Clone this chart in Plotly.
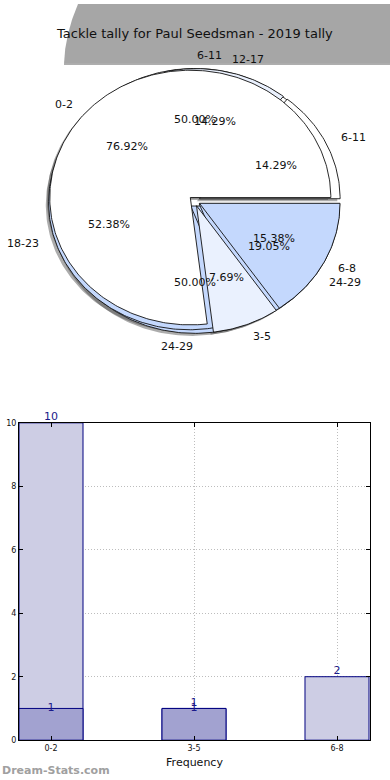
import numpy as np
import plotly.graph_objects as go

TITLE = "Tackle tally for Paul Seedsman - 2019 tally"

# Bar chart data
bar_categories = ["0-2", "3-5", "6-8"]
series_a = [10, 1, 2]
series_b = [1, 1, None]
y_ticks = [0, 2, 4, 6, 8, 10]

# Pie data (three overlaid pies)
pie1_labels = ["0-2", "3-5", "6-8"]
pie1_values = [10, 1, 2]
pie2_labels = ["6-11", "12-17", "18-23", "24-29"]
pie2_values = [3, 3, 11, 4]
pie3_labels = ["6-11", "24-29"]
pie3_values = [1, 1]

pie1_colors = ["#ffffff", "#eaf1fe", "#c4d8fd"]
pie2_colors = ["#ffffff", "#eaf1fe", "#c4d8fd", "#c4d8fd"]
pie3_colors = ["#ffffff", "#c4d8fd"]

EXPLODE = 0.04
LABEL_DIST = 1.1
PCT_DIST = 0.6
FONT = "DejaVu Sans"

fig = go.Figure()

pies = [
    (pie3_labels, pie3_values, pie3_colors),
    (pie2_labels, pie2_values, pie2_colors),
    (pie1_labels, pie1_values, pie1_colors),
]


def wedge_geom(values):
    v = np.array(values, dtype=float)
    frac = v / v.sum()
    edges = np.concatenate([[0.0], np.cumsum(frac)]) * 360.0
    return frac, edges


def wedge_poly(t1, t2, ox, oy):
    th = np.radians(np.linspace(t1, t2, max(4, int(abs(t2 - t1)) + 2)))
    xs = np.concatenate([[ox], ox + np.cos(th), [ox]])
    ys = np.concatenate([[oy], oy + np.sin(th), [oy]])
    return xs, ys


# shadows first
for labels, values, colors in pies:
    frac, edges = wedge_geom(values)
    for i in range(len(values)):
        tm = np.radians((edges[i] + edges[i + 1]) / 2)
        ox, oy = EXPLODE * np.cos(tm) - 0.02, EXPLODE * np.sin(tm) - 0.02
        xs, ys = wedge_poly(edges[i], edges[i + 1], ox, oy)
        fig.add_trace(go.Scatter(x=xs, y=ys, fill="toself", mode="lines",
                                 fillcolor="rgba(70,70,70,0.45)",
                                 line=dict(width=0, color="rgba(0,0,0,0)"),
                                 xaxis="x2", yaxis="y2", hoverinfo="skip"))

annotations = []
for labels, values, colors in pies:
    frac, edges = wedge_geom(values)
    for i in range(len(values)):
        tm = np.radians((edges[i] + edges[i + 1]) / 2)
        ox, oy = EXPLODE * np.cos(tm), EXPLODE * np.sin(tm)
        xs, ys = wedge_poly(edges[i], edges[i + 1], ox, oy)
        fig.add_trace(go.Scatter(x=xs, y=ys, fill="toself", mode="lines",
                                 fillcolor=colors[i % len(colors)],
                                 line=dict(width=0.9, color="#111111"),
                                 xaxis="x2", yaxis="y2", hoverinfo="skip"))
        c, s = np.cos(tm), np.sin(tm)
        annotations.append(dict(
            x=ox + LABEL_DIST * c, y=oy + LABEL_DIST * s, xref="x2", yref="y2",
            text=labels[i], showarrow=False,
            xanchor="left" if c > 0 else "right", yanchor="middle",
            font=dict(family=FONT, size=11, color="#111111")))
        annotations.append(dict(
            x=ox + PCT_DIST * c, y=oy + PCT_DIST * s, xref="x2", yref="y2",
            text="%.2f%%" % (frac[i] * 100), showarrow=False,
            xanchor="center", yanchor="middle",
            font=dict(family=FONT, size=11, color="#111111")))

# Bars
bar_width = 0.4476
fig.add_trace(go.Bar(x=bar_categories, y=series_a, width=bar_width,
                     marker=dict(color="#cdcde4", line=dict(color="#000080", width=1)),
                     xaxis="x", yaxis="y", hoverinfo="skip"))
fig.add_trace(go.Bar(x=bar_categories, y=series_b, width=bar_width,
                     marker=dict(color="#a2a2d0", line=dict(color="#000080", width=1)),
                     xaxis="x", yaxis="y", hoverinfo="skip"))
fig.add_trace(go.Scatter(x=bar_categories, y=series_a, mode="text",
                         text=[str(v) if v else "" for v in series_a],
                         textposition="top center",
                         textfont=dict(family=FONT, size=11, color="#1a1a8a"),
                         xaxis="x", yaxis="y", hoverinfo="skip", cliponaxis=False))
fig.add_trace(go.Scatter(x=bar_categories, y=series_b, mode="text",
                         text=[str(v) if v else "" for v in series_b],
                         textposition="middle center",
                         textfont=dict(family=FONT, size=11, color="#1a1a8a"),
                         xaxis="x", yaxis="y", hoverinfo="skip", cliponaxis=False))

W, H = 390, 780
HE = 775.0  # effective height used for paper-fraction placement

annotations.append(dict(x=194 / W, y=1 - 30 / HE, xref="paper", yref="paper",
                        text=TITLE, showarrow=False, xanchor="center", yanchor="middle",
                        font=dict(family=FONT, size=13, color="#111111")))
annotations.append(dict(x=0.0, y=1 - 770 / HE, xref="paper", yref="paper",
                        text="<b>Dream-Stats.com</b>", showarrow=False,
                        xanchor="left", yanchor="middle",
                        font=dict(family=FONT, size=11, color="#a0a0a0")))

grid_style = dict(showgrid=True, gridcolor="#bdbdbd", griddash="1px,2px", gridwidth=1)

fig.update_layout(
    width=W, height=H,
    margin=dict(l=0, r=0, t=0, b=0),
    paper_bgcolor="white", plot_bgcolor="rgba(0,0,0,0)",
    showlegend=False, barmode="overlay",
    annotations=annotations,
    xaxis=dict(domain=[19 / W, 370 / W], anchor="y", type="category",
               range=[-0.2238, 2.2308],
               showline=True, linecolor="black", linewidth=1, mirror="allticks",
               ticks="inside", ticklen=4, tickcolor="black",
               tickfont=dict(family=FONT, size=8, color="#111111"),
               title=dict(text="Frequency", font=dict(family=FONT, size=11, color="#111111"),
                          standoff=6),
               zeroline=False, fixedrange=True, **grid_style),
    yaxis=dict(domain=[1 - 740 / HE, 1 - 421 / HE], anchor="x", range=[0, 10],
               tickvals=y_ticks,
               showline=True, linecolor="black", linewidth=1, mirror="allticks",
               ticks="inside", ticklen=4, tickcolor="black",
               tickfont=dict(family=FONT, size=8, color="#111111"),
               zeroline=False, fixedrange=True, **grid_style),
    xaxis2=dict(domain=[0, 1], anchor="y2", range=[-1.384, 1.391],
                visible=False, fixedrange=True),
    yaxis2=dict(domain=[1 - 360 / HE, 1 - 40 / HE], anchor="x2", range=[-1.266, 1.234],
                visible=False, fixedrange=True),
    shapes=[
        dict(type="path", xref="paper", yref="paper", layer="below",
             path="M %f,%f Q %f,%f %f,%f L 1,1 L 1,%f Z" % (
                 64 / W, 1 - 60 / HE, 65 / W, 1 - 30 / HE, 78 / W, 1.0, 1 - 60 / HE),
             fillcolor="#a6a6a6", line=dict(width=0)),
        dict(type="line", xref="paper", yref="paper", layer="below",
             x0=64 / W, x1=1, y0=1 - 60.5 / HE, y1=1 - 60.5 / HE,
             line=dict(color="#8a8a8a", width=1)),
    ],
)

fig.write_html("out.html", config={"displayModeBar": False},
               post_script="document.body.style.margin='0';document.body.style.overflow='hidden';")
